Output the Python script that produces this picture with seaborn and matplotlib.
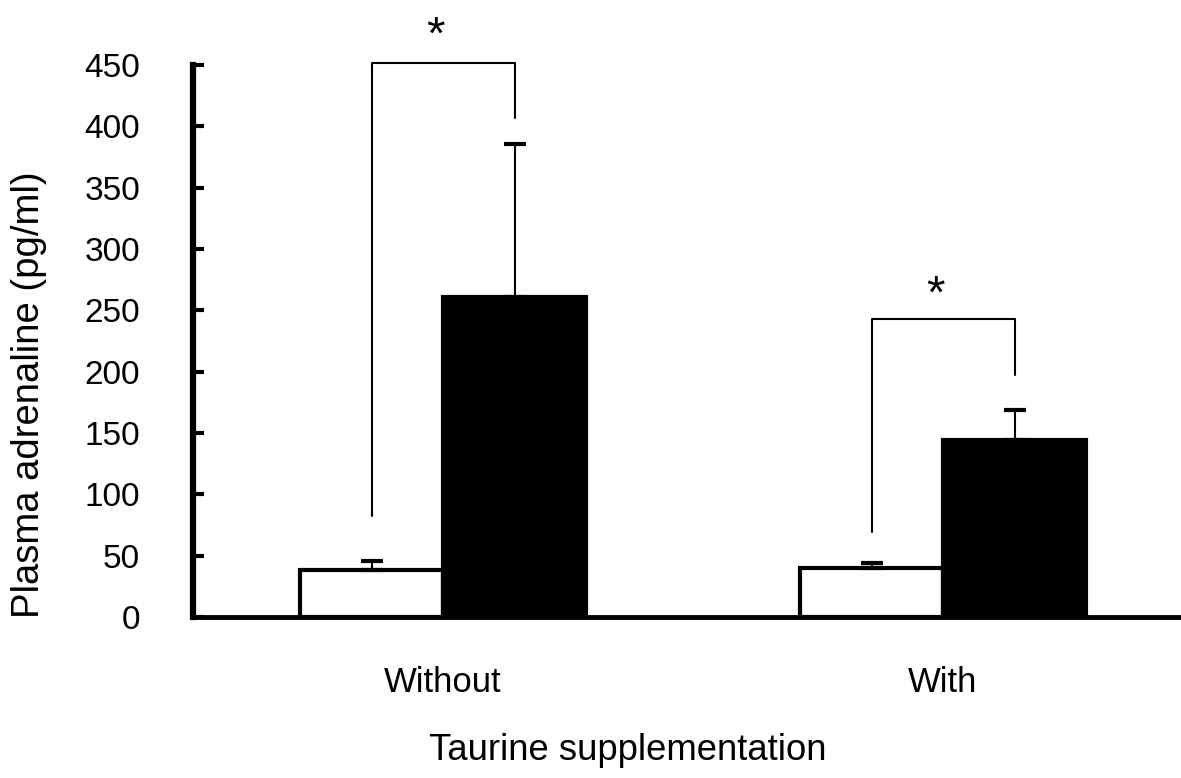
import pandas as pd
import matplotlib
matplotlib.use('Agg')
import matplotlib.pyplot as plt
import numpy as np
import seaborn as sns

sns.set_style('white')
plt.rcParams['font.family'] = ['Liberation Sans', 'DejaVu Sans']
plt.rcParams['text.color'] = 'black'
plt.rcParams['xtick.color'] = 'black'
plt.rcParams['ytick.color'] = 'black'

# values
taurine = ['Without', 'With']
groups = ['Control', 'Stress']
control_mean = [38, 40]
control_sem = [8, 4]
stress_mean = [261, 144]
stress_sem = [125, 25]

# significance brackets: (left leg bottom, top, right leg bottom), star height
bracket_low_left = [82, 69]
bracket_top = [452, 243]
bracket_low_right = [407, 197]
star_y = [473, 262]

df = pd.DataFrame({
    'taurine': taurine * 2,
    'group': [groups[0]] * 2 + [groups[1]] * 2,
    'value': control_mean + stress_mean,
})
sems = control_sem + stress_sem

fig = plt.figure(figsize=(11.81, 7.78), dpi=100)
ax = fig.add_axes([193 / 1181, 1 - 617 / 778, 1 - 193 / 1181, (617 - 65) / 778])

sns.barplot(data=df, x='taurine', y='value', hue='group', order=taurine,
            hue_order=groups, palette=['white', 'black'], edgecolor='black',
            linewidth=3, width=0.572, errorbar=None, legend=False, ax=ax)

# bar centres in the same order as the dataframe rows (hue-major)
bars = ax.patches[:4]
xs = [b.get_x() + b.get_width() / 2 for b in bars]
hs = [b.get_height() for b in bars]
ax.errorbar(xs, hs, yerr=[np.zeros(4), sems], fmt='none', ecolor='black',
            elinewidth=1.5, capsize=8, capthick=3, zorder=3)

for i in range(2):
    xl = xs[i]
    xr = xs[i + 2]
    ax.plot([xl, xl, xr, xr],
            [bracket_low_left[i], bracket_top[i], bracket_top[i], bracket_low_right[i]],
            color='black', lw=1.5, clip_on=False)
    ax.text((xl + xr) / 2 - 0.015, star_y[i], '*', fontsize=34, ha='center',
            va='center', color='black', clip_on=False)

ax.set_ylim(0, 450)
ax.set_xlim(-0.5, 1.476)
ax.set_yticks(range(0, 451, 50))
ax.tick_params(axis='y', left=True, direction='in', length=8, width=3, pad=38,
               labelsize=24, colors='black')
ax.tick_params(axis='x', length=0, pad=35, labelsize=25, colors='black')
ax.set_xlabel('')
ax.set_ylabel('')

for s in ['top', 'right']:
    ax.spines[s].set_visible(False)
ax.spines['left'].set_linewidth(4.5)
ax.spines['bottom'].set_linewidth(3.5)
ax.spines['left'].set_color('black')
ax.spines['bottom'].set_color('black')

fig.text(29 / 1181, 1 - 395 / 778, 'Plasma adrenaline (pg/ml)', rotation=90,
         ha='center', va='center', fontsize=27.5, color='black')
fig.text(628 / 1181, 1 - 751 / 778, 'Taurine supplementation', ha='center',
         va='center', fontsize=26.3, color='black')

fig.savefig('out.png', dpi=100)
